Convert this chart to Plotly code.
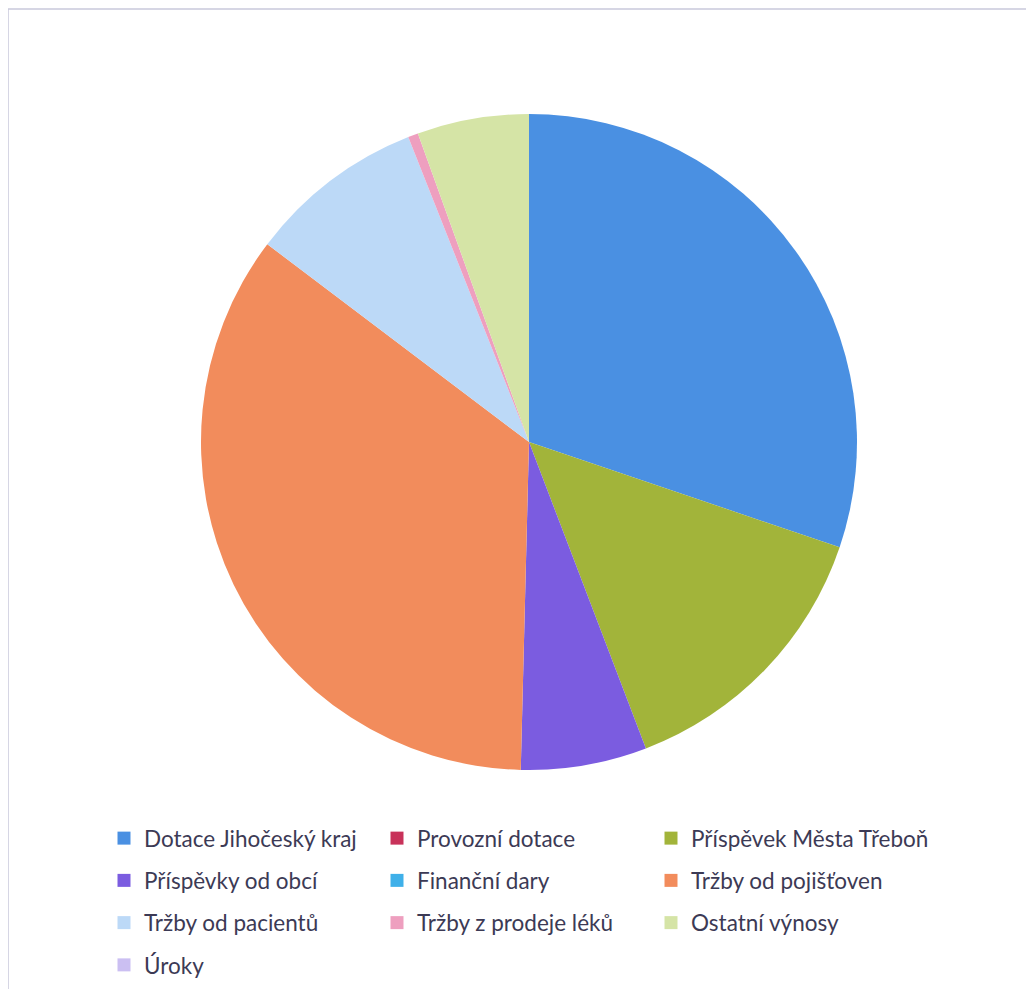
import plotly.graph_objects as go

labels = ["Dotace Jihočeský kraj", "Provozní dotace", "Příspěvek Města Třeboň",
          "Příspěvky od obcí", "Finanční dary", "Tržby od pojišťoven",
          "Tržby od pacientů", "Tržby z prodeje léků", "Ostatní výnosy", "Úroky"]
values = [30.2, 0, 14.0, 6.2, 0, 34.9, 8.7, 0.5, 5.5, 0]
colors = ["#4a90e2", "#c8325a", "#a2b43a", "#7b5ce0", "#3fb0e9", "#f28c5c",
          "#bcd9f7", "#ee9fbf", "#d5e4a6", "#cbbff2"]

W, H = 1034, 989
OFF = 8  # page body margin
fig = go.Figure()

cx, cy, r = 529 - OFF, 442 - OFF, 328
fig.add_trace(go.Pie(
    labels=labels, values=values, sort=False, direction="clockwise", rotation=0,
    marker=dict(colors=colors, line=dict(width=0)), textinfo="none",
    showlegend=False,
    domain=dict(x=[(cx - r) / W, (cx + r) / W], y=[1 - (cy + r) / H, 1 - (cy - r) / H]),
))

# legend entries laid out in three columns (one vertical legend per column)
legend_names = ["legend", "legend2", "legend3"]
col_x = [104, 377, 651]
for i, (lab, col) in enumerate(zip(labels, colors)):
    fig.add_trace(go.Scatter(
        x=[None], y=[None], mode="markers", name=lab,
        marker=dict(symbol="square", size=13, color=col),
        legend=legend_names[i % 3], legendgroup=f"g{i}", hoverinfo="skip",
    ))

legend_style = dict(
    orientation="v", xanchor="left", yanchor="top", y=1 - (817 - OFF) / H,
    font=dict(family="Lato", size=22.5, color="#3c3a55"),
    tracegroupgap=10, bgcolor="rgba(0,0,0,0)",
    itemclick=False, itemdoubleclick=False,
)
layout_legends = {}
for name, lx in zip(legend_names, col_x):
    layout_legends[name] = dict(legend_style, x=(lx - 8) / W)

fig.update_layout(
    width=W, height=H, margin=dict(l=0, r=0, t=0, b=0),
    paper_bgcolor="white", plot_bgcolor="white",
    xaxis=dict(visible=False), yaxis=dict(visible=False),
    shapes=[dict(type="rect", xref="paper", yref="paper",
                 x0=0, x1=1.01, y0=-0.01, y1=1 - 1 / H,
                 line=dict(color="#c9c9dc", width=1.5))],
    **layout_legends,
)

fig.write_html("out.html")
